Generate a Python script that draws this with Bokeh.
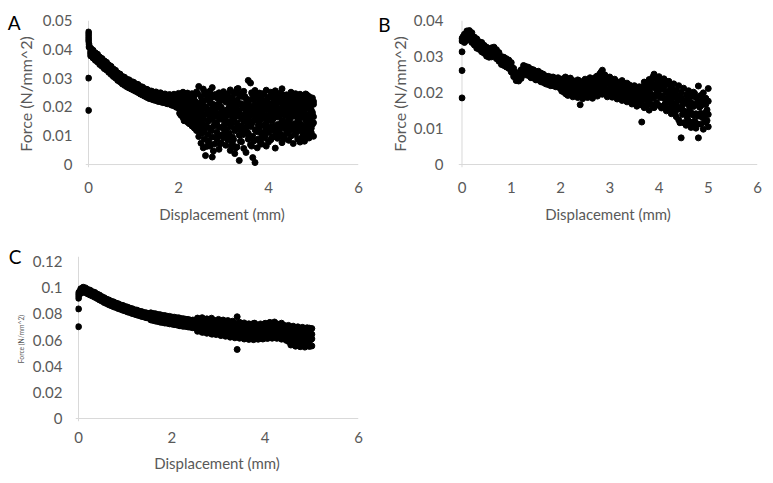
from bokeh.plotting import figure
from bokeh.models import (Range1d, FixedTicker, NumeralTickFormatter, Span, LinearAxis,
                          CustomJSTickFormatter)
from bokeh.layouts import column, row
from bokeh.embed import file_html
from bokeh.resources import INLINE

# ---------------- data ----------------
displacement = [
    0.05, 0.10, 0.15, 0.20, 0.25, 0.30, 0.35, 0.40, 0.45, 0.50,
    0.55, 0.60, 0.65, 0.70, 0.75, 0.80, 0.85, 0.90, 0.95, 1.00,
    1.05, 1.10, 1.15, 1.20, 1.25, 1.30, 1.35, 1.40, 1.45, 1.50,
    1.55, 1.60, 1.65, 1.70, 1.75, 1.80, 1.85, 1.90, 1.95, 2.00,
    2.05, 2.10, 2.15, 2.20, 2.25, 2.30, 2.35, 2.40, 2.45, 2.50,
    2.55, 2.60, 2.65, 2.70, 2.75, 2.80, 2.85, 2.90, 2.95, 3.00,
    3.05, 3.10, 3.15, 3.20, 3.25, 3.30, 3.35, 3.40, 3.45, 3.50,
    3.55, 3.60, 3.65, 3.70, 3.75, 3.80, 3.85, 3.90, 3.95, 4.00,
    4.05, 4.10, 4.15, 4.20, 4.25, 4.30, 4.35, 4.40, 4.45, 4.50,
    4.55, 4.60, 4.65, 4.70, 4.75, 4.80, 4.85, 4.90, 4.95, 5.00,
]
# extra readings taken between the steps in the noisy part (2-5 mm)
displacement_late = [
    2.025, 2.075, 2.125, 2.175, 2.225, 2.275, 2.325, 2.375, 2.425, 2.475,
    2.525, 2.575, 2.625, 2.675, 2.725, 2.775, 2.825, 2.875, 2.925, 2.975,
    3.025, 3.075, 3.125, 3.175, 3.225, 3.275, 3.325, 3.375, 3.425, 3.475,
    3.525, 3.575, 3.625, 3.675, 3.725, 3.775, 3.825, 3.875, 3.925, 3.975,
    4.025, 4.075, 4.125, 4.175, 4.225, 4.275, 4.325, 4.375, 4.425, 4.475,
    4.525, 4.575, 4.625, 4.675, 4.725, 4.775, 4.825, 4.875, 4.925, 4.975,
]

# Panel A: force (N/mm^2)
start_x_A = [0.0, 0.0, 0.0, 0.0, 0.0, 0.01, 0.01, 0.0, 0.0]
start_y_A = [0.0460, 0.0452, 0.0444, 0.0436, 0.0428, 0.0418, 0.0408, 0.0300, 0.0188]
force_A1 = [
    0.0404, 0.0397, 0.0388, 0.0383, 0.0373, 0.0368, 0.0360, 0.0355, 0.0346, 0.0341,
    0.0332, 0.0327, 0.0318, 0.0314, 0.0306, 0.0303, 0.0296, 0.0294, 0.0288, 0.0286,
    0.0280, 0.0278, 0.0271, 0.0269, 0.0263, 0.0261, 0.0256, 0.0255, 0.0251, 0.0252,
    0.0247, 0.0249, 0.0243, 0.0245, 0.0240, 0.0243, 0.0238, 0.0244, 0.0236, 0.0247,
    0.0242, 0.0251, 0.0237, 0.0248, 0.0233, 0.0246, 0.0239, 0.0252, 0.0271, 0.0236,
    0.0262, 0.0244, 0.0228, 0.0255, 0.0267, 0.0241, 0.0232, 0.0249, 0.0226, 0.0253,
    0.0238, 0.0245, 0.0259, 0.0231, 0.0247, 0.0262, 0.0236, 0.0243, 0.0254, 0.0229,
    0.0292, 0.0283, 0.0241, 0.0257, 0.0235, 0.0248, 0.0226, 0.0244, 0.0258, 0.0233,
    0.0251, 0.0239, 0.0256, 0.0228, 0.0247, 0.0263, 0.0236, 0.0242, 0.0229, 0.0251,
    0.0238, 0.0246, 0.0233, 0.0244, 0.0239, 0.0231, 0.0242, 0.0236, 0.0227, 0.0219,
]
force_A2 = [
    0.0395, 0.0388, 0.0380, 0.0373, 0.0366, 0.0358, 0.0352, 0.0347, 0.0338, 0.0332,
    0.0325, 0.0317, 0.0311, 0.0304, 0.0299, 0.0293, 0.0289, 0.0284, 0.0281, 0.0276,
    0.0273, 0.0268, 0.0264, 0.0259, 0.0256, 0.0251, 0.0249, 0.0245, 0.0244, 0.0241,
    0.0240, 0.0237, 0.0236, 0.0233, 0.0232, 0.0229, 0.0228, 0.0224, 0.0224, 0.0219,
    0.0221, 0.0214, 0.0226, 0.0209, 0.0218, 0.0203, 0.0222, 0.0196, 0.0213, 0.0188,
    0.0219, 0.0201, 0.0184, 0.0215, 0.0194, 0.0207, 0.0178, 0.0212, 0.0199, 0.0186,
    0.0217, 0.0192, 0.0208, 0.0181, 0.0203, 0.0221, 0.0189, 0.0211, 0.0196, 0.0184,
    0.0214, 0.0201, 0.0187, 0.0209, 0.0193, 0.0216, 0.0182, 0.0205, 0.0197, 0.0213,
    0.0188, 0.0209, 0.0201, 0.0219, 0.0192, 0.0214, 0.0205, 0.0197, 0.0221, 0.0208,
    0.0199, 0.0216, 0.0203, 0.0222, 0.0194, 0.0211, 0.0205, 0.0218, 0.0189, 0.0209,
]
force_A3 = [
    0.0389, 0.0381, 0.0376, 0.0367, 0.0361, 0.0352, 0.0348, 0.0339, 0.0334, 0.0325,
    0.0320, 0.0311, 0.0306, 0.0298, 0.0294, 0.0287, 0.0284, 0.0278, 0.0276, 0.0270,
    0.0268, 0.0262, 0.0259, 0.0253, 0.0251, 0.0245, 0.0244, 0.0239, 0.0239, 0.0235,
    0.0235, 0.0231, 0.0231, 0.0227, 0.0227, 0.0223, 0.0222, 0.0217, 0.0216, 0.0211,
    0.0201, 0.0193, 0.0188, 0.0196, 0.0182, 0.0191, 0.0176, 0.0185, 0.0168, 0.0179,
    0.0161, 0.0174, 0.0152, 0.0169, 0.0158, 0.0177, 0.0146, 0.0165, 0.0171, 0.0155,
    0.0168, 0.0149, 0.0172, 0.0157, 0.0163, 0.0144, 0.0176, 0.0159, 0.0152, 0.0170,
    0.0161, 0.0147, 0.0173, 0.0155, 0.0166, 0.0151, 0.0178, 0.0162, 0.0145, 0.0169,
    0.0174, 0.0158, 0.0182, 0.0165, 0.0171, 0.0153, 0.0177, 0.0186, 0.0162, 0.0175,
    0.0168, 0.0181, 0.0159, 0.0176, 0.0185, 0.0163, 0.0172, 0.0157, 0.0179, 0.0166,
]
force_A4 = [
    0.0384, 0.0377, 0.0369, 0.0363, 0.0354, 0.0348, 0.0341, 0.0335, 0.0327, 0.0321,
    0.0313, 0.0307, 0.0299, 0.0294, 0.0287, 0.0282, 0.0277, 0.0273, 0.0269, 0.0265,
    0.0261, 0.0257, 0.0252, 0.0248, 0.0244, 0.0240, 0.0237, 0.0234, 0.0232, 0.0229,
    0.0228, 0.0225, 0.0224, 0.0221, 0.0220, 0.0217, 0.0214, 0.0211, 0.0208, 0.0204,
    0.0186, 0.0178, 0.0171, 0.0165, 0.0159, 0.0163, 0.0152, 0.0147, 0.0139, 0.0128,
    0.0118, 0.0132, 0.0104, 0.0125, 0.0096, 0.0138, 0.0112, 0.0129, 0.0101, 0.0134,
    0.0121, 0.0108, 0.0131, 0.0096, 0.0117, 0.0127, 0.0102, 0.0135, 0.0113, 0.0124,
    0.0109, 0.0132, 0.0098, 0.0121, 0.0114, 0.0128, 0.0105, 0.0136, 0.0119, 0.0111,
    0.0131, 0.0122, 0.0115, 0.0139, 0.0108, 0.0127, 0.0134, 0.0118, 0.0142, 0.0124,
    0.0137, 0.0116, 0.0129, 0.0141, 0.0121, 0.0133, 0.0112, 0.0138, 0.0126, 0.0145,
]
force_A5 = [
    0.0377, 0.0370, 0.0362, 0.0356, 0.0347, 0.0341, 0.0333, 0.0328, 0.0320, 0.0313,
    0.0306, 0.0300, 0.0292, 0.0287, 0.0280, 0.0275, 0.0270, 0.0266, 0.0262, 0.0258,
    0.0254, 0.0250, 0.0245, 0.0241, 0.0237, 0.0233, 0.0229, 0.0227, 0.0224, 0.0222,
    0.0219, 0.0218, 0.0215, 0.0214, 0.0211, 0.0210, 0.0206, 0.0204, 0.0199, 0.0196,
    0.0172, 0.0163, 0.0155, 0.0148, 0.0141, 0.0134, 0.0127, 0.0118, 0.0097, 0.0074,
    0.0058, 0.0031, 0.0082, 0.0064, 0.0026, 0.0071, 0.0089, 0.0053, 0.0076, 0.0094,
    0.0067, 0.0085, 0.0049, 0.0072, 0.0038, 0.0061, 0.0014, 0.0079, 0.0056, 0.0042,
    0.0088, 0.0069, 0.0024, 0.0007, 0.0058, 0.0083, 0.0071, 0.0092, 0.0064, 0.0078,
    0.0086, 0.0097, 0.0057, 0.0091, 0.0103, 0.0076, 0.0095, 0.0108, 0.0084, 0.0099,
    0.0073, 0.0104, 0.0089, 0.0078, 0.0095, 0.0081, 0.0102, 0.0092, 0.0111, 0.0098,
]
force_A6 = [
    0.0231, 0.0187, 0.0214, 0.0169, 0.0225, 0.0158, 0.0203, 0.0176, 0.0247, 0.0134,
    0.0221, 0.0089, 0.0193, 0.0246, 0.0117, 0.0208, 0.0143, 0.0233, 0.0071, 0.0186,
    0.0152, 0.0238, 0.0109, 0.0197, 0.0249, 0.0126, 0.0214, 0.0081, 0.0172, 0.0236,
    0.0139, 0.0224, 0.0064, 0.0191, 0.0118, 0.0241, 0.0157, 0.0203, 0.0097, 0.0228,
    0.0166, 0.0211, 0.0132, 0.0247, 0.0187, 0.0104, 0.0219, 0.0148, 0.0238, 0.0173,
    0.0121, 0.0206, 0.0239, 0.0154, 0.0187, 0.0226, 0.0109, 0.0198, 0.0163, 0.0231,
]
force_A7 = [
    0.0196, 0.0242, 0.0171, 0.0208, 0.0236, 0.0189, 0.0147, 0.0219, 0.0163, 0.0208,
    0.0174, 0.0253, 0.0134, 0.0081, 0.0211, 0.0166, 0.0243, 0.0099, 0.0197, 0.0128,
    0.0229, 0.0091, 0.0183, 0.0141, 0.0212, 0.0058, 0.0264, 0.0167, 0.0103, 0.0198,
    0.0216, 0.0169, 0.0249, 0.0082, 0.0176, 0.0137, 0.0229, 0.0111, 0.0189, 0.0152,
    0.0234, 0.0093, 0.0178, 0.0207, 0.0126, 0.0195, 0.0242, 0.0169, 0.0113, 0.0204,
    0.0176, 0.0142, 0.0218, 0.0189, 0.0133, 0.0167, 0.0245, 0.0127, 0.0211, 0.0181,
]
force_A8 = [
    0.0178, 0.0205, 0.0152, 0.0239, 0.0197, 0.0226, 0.0181, 0.0136, 0.0194, 0.0161,
    0.0109, 0.0199, 0.0226, 0.0152, 0.0182, 0.0047, 0.0139, 0.0207, 0.0158, 0.0241,
    0.0121, 0.0174, 0.0227, 0.0064, 0.0159, 0.0188, 0.0132, 0.0245, 0.0206, 0.0117,
    0.0184, 0.0093, 0.0201, 0.0153, 0.0234, 0.0196, 0.0072, 0.0171, 0.0213, 0.0126,
    0.0189, 0.0151, 0.0226, 0.0098, 0.0171, 0.0233, 0.0139, 0.0201, 0.0184, 0.0129,
    0.0209, 0.0188, 0.0131, 0.0227, 0.0166, 0.0102, 0.0193, 0.0221, 0.0149, 0.0173,
]
force_A9 = [
    0.0212, 0.0169, 0.0226, 0.0187, 0.0144, 0.0208, 0.0231, 0.0163, 0.0118, 0.0201,
    0.0144, 0.0121, 0.0063, 0.0188, 0.0231, 0.0132, 0.0195, 0.0167, 0.0221, 0.0104,
    0.0187, 0.0143, 0.0199, 0.0228, 0.0087, 0.0171, 0.0209, 0.0121, 0.0236, 0.0154,
    0.0107, 0.0189, 0.0141, 0.0226, 0.0203, 0.0089, 0.0188, 0.0246, 0.0134, 0.0171,
    0.0117, 0.0198, 0.0163, 0.0181, 0.0223, 0.0142, 0.0087, 0.0186, 0.0212, 0.0158,
    0.0192, 0.0226, 0.0171, 0.0116, 0.0204, 0.0185, 0.0152, 0.0173, 0.0197, 0.0139,
]

# Panel B
start_x_B = [0.0, 0.0, 0.0, 0.0, 0.0, 0.02, 0.02]
start_y_B = [0.0185, 0.0261, 0.0313, 0.0343, 0.0350, 0.0355, 0.0347]
force_B1 = [
    0.0362, 0.0371, 0.0372, 0.0366, 0.0354, 0.0349, 0.0341, 0.0339, 0.0331, 0.0326,
    0.0319, 0.0324, 0.0326, 0.0319, 0.0311, 0.0300, 0.0298, 0.0294, 0.0290, 0.0283,
    0.0267, 0.0255, 0.0255, 0.0263, 0.0275, 0.0272, 0.0270, 0.0265, 0.0263, 0.0258,
    0.0259, 0.0254, 0.0251, 0.0246, 0.0245, 0.0243, 0.0243, 0.0239, 0.0241, 0.0236,
    0.0238, 0.0243, 0.0229, 0.0240, 0.0233, 0.0226, 0.0235, 0.0224, 0.0230, 0.0237,
    0.0229, 0.0241, 0.0236, 0.0230, 0.0246, 0.0252, 0.0262, 0.0249, 0.0238, 0.0243,
    0.0231, 0.0237, 0.0228, 0.0224, 0.0233, 0.0219, 0.0226, 0.0221, 0.0212, 0.0219,
    0.0208, 0.0216, 0.0214, 0.0229, 0.0221, 0.0236, 0.0227, 0.0251, 0.0238, 0.0244,
    0.0229, 0.0238, 0.0222, 0.0231, 0.0215, 0.0224, 0.0207, 0.0219, 0.0201, 0.0212,
    0.0194, 0.0205, 0.0189, 0.0201, 0.0186, 0.0218, 0.0192, 0.0199, 0.0184, 0.0211,
]
force_B2 = [
    0.0354, 0.0362, 0.0365, 0.0357, 0.0346, 0.0341, 0.0334, 0.0331, 0.0323, 0.0318,
    0.0313, 0.0315, 0.0320, 0.0310, 0.0303, 0.0293, 0.0291, 0.0286, 0.0282, 0.0274,
    0.0259, 0.0248, 0.0248, 0.0256, 0.0266, 0.0265, 0.0262, 0.0257, 0.0256, 0.0251,
    0.0250, 0.0246, 0.0243, 0.0239, 0.0237, 0.0235, 0.0234, 0.0232, 0.0231, 0.0227,
    0.0226, 0.0231, 0.0219, 0.0224, 0.0221, 0.0215, 0.0222, 0.0212, 0.0219, 0.0214,
    0.0220, 0.0216, 0.0227, 0.0222, 0.0225, 0.0236, 0.0233, 0.0231, 0.0224, 0.0228,
    0.0219, 0.0224, 0.0215, 0.0218, 0.0209, 0.0216, 0.0204, 0.0210, 0.0201, 0.0197,
    0.0199, 0.0192, 0.0203, 0.0197, 0.0208, 0.0202, 0.0215, 0.0213, 0.0222, 0.0217,
    0.0209, 0.0213, 0.0201, 0.0196, 0.0199, 0.0187, 0.0191, 0.0179, 0.0184, 0.0171,
    0.0176, 0.0166, 0.0172, 0.0161, 0.0169, 0.0174, 0.0163, 0.0171, 0.0167, 0.0176,
]
force_B3 = [
    0.0346, 0.0353, 0.0357, 0.0347, 0.0340, 0.0331, 0.0328, 0.0321, 0.0317, 0.0309,
    0.0306, 0.0307, 0.0311, 0.0303, 0.0293, 0.0287, 0.0281, 0.0280, 0.0273, 0.0267,
    0.0250, 0.0242, 0.0238, 0.0249, 0.0257, 0.0259, 0.0253, 0.0251, 0.0246, 0.0245,
    0.0241, 0.0240, 0.0234, 0.0233, 0.0228, 0.0229, 0.0225, 0.0226, 0.0222, 0.0221,
    0.0215, 0.0209, 0.0213, 0.0204, 0.0208, 0.0203, 0.0199, 0.0205, 0.0196, 0.0202,
    0.0207, 0.0201, 0.0209, 0.0213, 0.0206, 0.0215, 0.0218, 0.0212, 0.0205, 0.0209,
    0.0206, 0.0199, 0.0203, 0.0196, 0.0201, 0.0192, 0.0195, 0.0188, 0.0191, 0.0183,
    0.0185, 0.0178, 0.0172, 0.0181, 0.0184, 0.0179, 0.0191, 0.0187, 0.0198, 0.0193,
    0.0189, 0.0184, 0.0181, 0.0173, 0.0176, 0.0165, 0.0168, 0.0157, 0.0155, 0.0148,
    0.0146, 0.0139, 0.0144, 0.0137, 0.0141, 0.0135, 0.0142, 0.0138, 0.0145, 0.0139,
]
force_B4 = [
    0.0339, 0.0345, 0.0349, 0.0339, 0.0332, 0.0323, 0.0320, 0.0313, 0.0309, 0.0301,
    0.0298, 0.0299, 0.0304, 0.0294, 0.0287, 0.0278, 0.0275, 0.0271, 0.0267, 0.0257,
    0.0244, 0.0233, 0.0232, 0.0239, 0.0251, 0.0249, 0.0247, 0.0241, 0.0240, 0.0235,
    0.0235, 0.0230, 0.0228, 0.0224, 0.0222, 0.0219, 0.0219, 0.0216, 0.0215, 0.0211,
    0.0203, 0.0197, 0.0192, 0.0199, 0.0188, 0.0194, 0.0186, 0.0166, 0.0183, 0.0189,
    0.0186, 0.0193, 0.0184, 0.0197, 0.0190, 0.0199, 0.0195, 0.0201, 0.0188, 0.0192,
    0.0187, 0.0191, 0.0182, 0.0186, 0.0178, 0.0183, 0.0174, 0.0179, 0.0168, 0.0173,
    0.0162, 0.0167, 0.0118, 0.0158, 0.0163, 0.0151, 0.0167, 0.0158, 0.0172, 0.0164,
    0.0157, 0.0163, 0.0149, 0.0156, 0.0141, 0.0148, 0.0133, 0.0124, 0.0074, 0.0116,
    0.0109, 0.0121, 0.0103, 0.0114, 0.0101, 0.0074, 0.0112, 0.0098, 0.0117, 0.0105,
]
force_B5 = [
    0.0218, 0.0207, 0.0229, 0.0201, 0.0224, 0.0196, 0.0212, 0.0233, 0.0191, 0.0221,
    0.0198, 0.0228, 0.0206, 0.0239, 0.0211, 0.0244, 0.0257, 0.0219, 0.0232, 0.0203,
    0.0226, 0.0209, 0.0232, 0.0194, 0.0219, 0.0227, 0.0186, 0.0213, 0.0199, 0.0205,
    0.0178, 0.0201, 0.0169, 0.0193, 0.0211, 0.0176, 0.0224, 0.0185, 0.0239, 0.0206,
    0.0221, 0.0191, 0.0233, 0.0174, 0.0207, 0.0162, 0.0196, 0.0153, 0.0187, 0.0139,
    0.0172, 0.0129, 0.0158, 0.0191, 0.0121, 0.0166, 0.0137, 0.0183, 0.0126, 0.0152,
]
force_B6 = [
    0.0204, 0.0227, 0.0195, 0.0213, 0.0201, 0.0219, 0.0192, 0.0206, 0.0225, 0.0198,
    0.0216, 0.0193, 0.0231, 0.0212, 0.0244, 0.0201, 0.0226, 0.0248, 0.0208, 0.0229,
    0.0198, 0.0235, 0.0214, 0.0221, 0.0201, 0.0196, 0.0218, 0.0181, 0.0207, 0.0189,
    0.0201, 0.0184, 0.0212, 0.0163, 0.0189, 0.0228, 0.0197, 0.0243, 0.0192, 0.0227,
    0.0186, 0.0214, 0.0169, 0.0225, 0.0181, 0.0203, 0.0142, 0.0178, 0.0116, 0.0164,
    0.0147, 0.0183, 0.0118, 0.0141, 0.0197, 0.0113, 0.0159, 0.0131, 0.0171, 0.0122,
]

# Panel C
start_x_C = [0.0, 0.0, 0.0, 0.0, 0.0, 0.02, 0.02]
start_y_C = [0.0838, 0.0702, 0.0920, 0.0940, 0.0960, 0.0970, 0.0950]
force_C1 = [
    0.0993, 0.1004, 0.0999, 0.0987, 0.0981, 0.0970, 0.0964, 0.0952, 0.0944, 0.0932,
    0.0924, 0.0913, 0.0907, 0.0897, 0.0892, 0.0883, 0.0878, 0.0869, 0.0865, 0.0857,
    0.0852, 0.0844, 0.0840, 0.0832, 0.0829, 0.0821, 0.0818, 0.0811, 0.0808, 0.0803,
    0.0808, 0.0803, 0.0801, 0.0795, 0.0794, 0.0788, 0.0787, 0.0782, 0.0781, 0.0776,
    0.0775, 0.0771, 0.0770, 0.0764, 0.0763, 0.0759, 0.0758, 0.0752, 0.0753, 0.0746,
    0.0768, 0.0759, 0.0771, 0.0755, 0.0762, 0.0749, 0.0767, 0.0752, 0.0746, 0.0758,
    0.0741, 0.0753, 0.0737, 0.0749, 0.0731, 0.0744, 0.0728, 0.0778, 0.0736, 0.0722,
    0.0731, 0.0716, 0.0724, 0.0712, 0.0727, 0.0718, 0.0709, 0.0723, 0.0714, 0.0728,
    0.0719, 0.0735, 0.0722, 0.0738, 0.0724, 0.0716, 0.0729, 0.0713, 0.0707, 0.0712,
    0.0698, 0.0706, 0.0694, 0.0701, 0.0689, 0.0697, 0.0686, 0.0694, 0.0691, 0.0688,
]
force_C2 = [
    0.0981, 0.0991, 0.0987, 0.0976, 0.0968, 0.0960, 0.0950, 0.0942, 0.0931, 0.0922,
    0.0911, 0.0903, 0.0894, 0.0887, 0.0879, 0.0873, 0.0865, 0.0859, 0.0852, 0.0847,
    0.0839, 0.0834, 0.0827, 0.0822, 0.0816, 0.0811, 0.0805, 0.0801, 0.0795, 0.0792,
    0.0790, 0.0787, 0.0782, 0.0779, 0.0775, 0.0772, 0.0768, 0.0766, 0.0762, 0.0760,
    0.0756, 0.0754, 0.0750, 0.0748, 0.0744, 0.0742, 0.0738, 0.0736, 0.0732, 0.0730,
    0.0738, 0.0729, 0.0733, 0.0721, 0.0729, 0.0718, 0.0722, 0.0714, 0.0717, 0.0705,
    0.0712, 0.0701, 0.0707, 0.0696, 0.0702, 0.0691, 0.0698, 0.0689, 0.0694, 0.0684,
    0.0689, 0.0681, 0.0686, 0.0678, 0.0685, 0.0677, 0.0686, 0.0679, 0.0689, 0.0683,
    0.0693, 0.0686, 0.0696, 0.0689, 0.0694, 0.0684, 0.0689, 0.0679, 0.0681, 0.0671,
    0.0672, 0.0663, 0.0664, 0.0654, 0.0657, 0.0648, 0.0653, 0.0645, 0.0652, 0.0644,
]
force_C3 = [
    0.0968, 0.0979, 0.0973, 0.0964, 0.0955, 0.0947, 0.0939, 0.0928, 0.0919, 0.0908,
    0.0899, 0.0889, 0.0882, 0.0873, 0.0867, 0.0859, 0.0853, 0.0845, 0.0840, 0.0833,
    0.0827, 0.0820, 0.0815, 0.0808, 0.0804, 0.0797, 0.0793, 0.0787, 0.0783, 0.0778,
    0.0771, 0.0768, 0.0763, 0.0760, 0.0756, 0.0753, 0.0749, 0.0747, 0.0743, 0.0741,
    0.0737, 0.0735, 0.0731, 0.0729, 0.0725, 0.0723, 0.0719, 0.0717, 0.0713, 0.0711,
    0.0698, 0.0705, 0.0691, 0.0699, 0.0686, 0.0693, 0.0679, 0.0687, 0.0673, 0.0682,
    0.0668, 0.0677, 0.0663, 0.0671, 0.0658, 0.0665, 0.0654, 0.0662, 0.0649, 0.0657,
    0.0646, 0.0654, 0.0644, 0.0651, 0.0643, 0.0650, 0.0645, 0.0653, 0.0648, 0.0656,
    0.0652, 0.0661, 0.0655, 0.0662, 0.0653, 0.0659, 0.0648, 0.0652, 0.0641, 0.0637,
    0.0629, 0.0632, 0.0618, 0.0624, 0.0611, 0.0616, 0.0606, 0.0612, 0.0603, 0.0609,
]
force_C4 = [
    0.0958, 0.0967, 0.0962, 0.0953, 0.0944, 0.0936, 0.0927, 0.0918, 0.0907, 0.0898,
    0.0887, 0.0879, 0.0870, 0.0863, 0.0855, 0.0849, 0.0841, 0.0835, 0.0828, 0.0823,
    0.0815, 0.0810, 0.0803, 0.0798, 0.0792, 0.0787, 0.0781, 0.0777, 0.0771, 0.0768,
    0.0754, 0.0750, 0.0745, 0.0742, 0.0737, 0.0734, 0.0730, 0.0729, 0.0724, 0.0722,
    0.0718, 0.0716, 0.0712, 0.0710, 0.0706, 0.0704, 0.0700, 0.0698, 0.0694, 0.0692,
    0.0667, 0.0678, 0.0659, 0.0671, 0.0652, 0.0664, 0.0646, 0.0657, 0.0642, 0.0651,
    0.0634, 0.0645, 0.0629, 0.0639, 0.0622, 0.0634, 0.0617, 0.0528, 0.0614, 0.0621,
    0.0608, 0.0619, 0.0605, 0.0614, 0.0603, 0.0611, 0.0606, 0.0613, 0.0608, 0.0616,
    0.0612, 0.0621, 0.0614, 0.0623, 0.0613, 0.0618, 0.0607, 0.0611, 0.0598, 0.0589,
    0.0562, 0.0577, 0.0553, 0.0568, 0.0549, 0.0561, 0.0546, 0.0558, 0.0551, 0.0555,
]
force_C5 = [
    0.0731, 0.0762, 0.0718, 0.0749, 0.0707, 0.0741, 0.0726, 0.0703, 0.0738, 0.0712,
    0.0744, 0.0689, 0.0727, 0.0661, 0.0712, 0.0741, 0.0672, 0.0706, 0.0653, 0.0724,
    0.0698, 0.0659, 0.0731, 0.0676, 0.0704, 0.0646, 0.0717, 0.0688, 0.0634, 0.0701,
    0.0662, 0.0703, 0.0641, 0.0689, 0.0716, 0.0652, 0.0694, 0.0671, 0.0708, 0.0644,
    0.0712, 0.0657, 0.0698, 0.0723, 0.0648, 0.0685, 0.0709, 0.0639, 0.0691, 0.0622,
    0.0668, 0.0611, 0.0683, 0.0594, 0.0652, 0.0675, 0.0581, 0.0638, 0.0667, 0.0602,
]
force_C6 = [
    0.0756, 0.0722, 0.0745, 0.0709, 0.0736, 0.0719, 0.0751, 0.0731, 0.0701, 0.0729,
    0.0708, 0.0735, 0.0667, 0.0724, 0.0753, 0.0691, 0.0722, 0.0646, 0.0711, 0.0684,
    0.0721, 0.0688, 0.0652, 0.0712, 0.0633, 0.0695, 0.0673, 0.0724, 0.0659, 0.0682,
    0.0697, 0.0627, 0.0681, 0.0655, 0.0692, 0.0729, 0.0663, 0.0641, 0.0683, 0.0717,
    0.0674, 0.0729, 0.0631, 0.0692, 0.0667, 0.0718, 0.0653, 0.0681, 0.0624, 0.0676,
    0.0637, 0.0659, 0.0612, 0.0684, 0.0621, 0.0598, 0.0661, 0.0573, 0.0649, 0.0615,
]

x_ticks_A = [0, 2, 4, 6]
y_ticks_A = [0, 0.01, 0.02, 0.03, 0.04, 0.05]
x_ticks_B = [0, 1, 2, 3, 4, 5, 6]
y_ticks_B = [0, 0.01, 0.02, 0.03, 0.04]
x_ticks_C = [0, 2, 4, 6]
y_ticks_C = [0, 0.02, 0.04, 0.06, 0.08, 0.1, 0.12]

x_title = "Displacement (mm)"
y_title = "Force (N/mm^2)"

GREY_TEXT = "#595959"
AXIS_GREY = "#d9d9d9"
FONT = "Lato"


def make_panel(w, h, bl, br, bt, bb, xr, yr, xticks, yticks, series, letter, letter_level,
               letter_standoff, ylab_size, x_lab_standoff, x_title_standoff,
               y_lab_standoff, y_title_standoff):
    p = figure(width=w, height=h, min_border_left=bl, min_border_right=br,
               min_border_top=bt, min_border_bottom=bb,
               x_range=Range1d(*xr), y_range=Range1d(*yr),
               output_backend="svg", toolbar_location=None, tools="")
    p.outline_line_color = None
    p.background_fill_color = "white"
    p.border_fill_color = "white"
    p.grid.visible = False
    p.xaxis.ticker = FixedTicker(ticks=xticks)
    p.yaxis.ticker = FixedTicker(ticks=yticks)
    p.yaxis.formatter = NumeralTickFormatter(format="0.[00]")
    for ax in p.axis:
        ax.axis_line_color = None
        ax.major_tick_line_color = None
        ax.minor_tick_line_color = None
        ax.major_tick_out = 0
        ax.major_tick_in = 0
        ax.minor_tick_out = 0
        ax.minor_tick_in = 0
        ax.major_label_text_font = FONT
        ax.major_label_text_font_size = "15px"
        ax.major_label_text_color = GREY_TEXT
        ax.axis_label_text_font = FONT
        ax.axis_label_text_font_style = "normal"
        ax.axis_label_text_color = GREY_TEXT
    p.xaxis.axis_label = x_title
    p.xaxis.axis_label_text_font_size = "15px"
    p.xaxis.major_label_standoff = x_lab_standoff
    p.xaxis.axis_label_standoff = x_title_standoff
    p.yaxis.axis_label = y_title
    p.yaxis.axis_label_text_font_size = ylab_size
    p.yaxis.major_label_standoff = y_lab_standoff
    p.yaxis.axis_label_standoff = y_title_standoff

    p.add_layout(Span(location=0, dimension="height", line_color=AXIS_GREY, line_width=1, level="underlay"))
    p.add_layout(Span(location=0, dimension="width", line_color=AXIS_GREY, line_width=1, level="underlay"))

    for xs, ys in series:
        p.scatter(xs, ys, size=6, color="black", line_color="black")

    # panel letter: an outer left axis carrying a single label near the top
    letter_axis = LinearAxis(
        ticker=FixedTicker(ticks=[letter_level]),
        formatter=CustomJSTickFormatter(args=dict(t=letter), code="return t"),
        axis_line_color=None, major_tick_line_color=None, minor_tick_line_color=None,
        major_tick_out=0, major_tick_in=0, minor_tick_out=0, minor_tick_in=0,
        major_label_standoff=letter_standoff,
        major_label_text_font=FONT, major_label_text_font_size="19px",
        major_label_text_color="black")
    p.add_layout(letter_axis, "left")
    return p


pA = make_panel(366, 236, 85, 8, 20, 68, (-0.0667, 6), (-0.00103, 0.05),
                x_ticks_A, y_ticks_A,
                [(start_x_A, start_y_A), (displacement, force_A1), (displacement, force_A2),
                 (displacement, force_A3), (displacement, force_A4), (displacement, force_A5),
                 (displacement_late, force_A6), (displacement_late, force_A7),
                 (displacement_late, force_A8), (displacement_late, force_A9)],
                "A", 0.0493, -8, "16px", 14, 9, 13, 5)

pB = make_panel(399, 236, 92, 8, 20, 69, (-0.071, 6), (-0.00083, 0.04),
                x_ticks_B, y_ticks_B,
                [(start_x_B, start_y_B), (displacement, force_B1), (displacement, force_B2),
                 (displacement, force_B3), (displacement, force_B4),
                 (displacement_late, force_B5), (displacement_late, force_B6)],
                "B", 0.0389, -4, "16px", 14, 9, 15, 2)

pC = make_panel(378, 239, 75, 20, 20, 54, (-0.0643, 6), (-0.0023, 0.1239),
                x_ticks_C, y_ticks_C,
                [(start_x_C, start_y_C), (displacement, force_C1), (displacement, force_C2),
                 (displacement, force_C3), (displacement, force_C4),
                 (displacement_late, force_C5), (displacement_late, force_C6)],
                "C", 0.1239, -8, "6.7px", 10, 8, 13, 5)

layout = column(row(pA, pB), pC)
open("out.html", "w").write(file_html(layout, INLINE))
